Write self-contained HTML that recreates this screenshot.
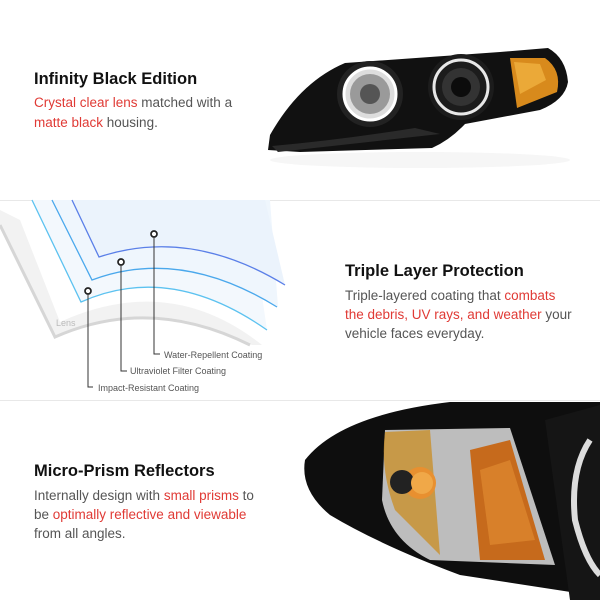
<!DOCTYPE html>
<html><head><meta charset="utf-8"><style>
body{margin:0;background:#fff;}
svg{display:block;font-family:"Liberation Sans",Arial,sans-serif;}
.h{font-size:16.5px;font-weight:bold;fill:#111;}
.b{font-size:13.5px;fill:#555;}
.r{fill:#e03a35;}
.s{font-size:9px;fill:#555;}
</style></head><body>
<svg width="600" height="600" viewBox="0 0 600 600">
<rect width="600" height="600" fill="#fff"/>
<line x1="0" y1="200.5" x2="600" y2="200.5" stroke="#e8e8e8"/>
<line x1="0" y1="400.5" x2="600" y2="400.5" stroke="#e8e8e8"/>

<text x="34" y="84" class="h">Infinity Black Edition</text>
<text x="34" y="107" class="b"><tspan class="r">Crystal clear lens</tspan> matched with a</text>
<text x="34" y="127" class="b"><tspan class="r">matte black</tspan> housing.</text>

<ellipse cx="420" cy="160" rx="150" ry="8" fill="#f6f6f6"/>
<path d="M268 150 L270 135 Q300 82 345 63 L500 52 L548 48 Q566 58 568 82 Q565 100 540 110 L465 124 Q450 140 432 148 L300 152 Z" fill="#111"/>
<path d="M272 146 Q340 140 415 128 L440 134 L278 152 Z" fill="#2a2a2a"/>
<path d="M510 58 L545 58 Q562 70 557 92 L517 108 Z" fill="#d88a1c"/>
<path d="M514 62 L540 64 L546 80 L520 94 Z" fill="#f0b040" opacity=".8"/>
<circle cx="370" cy="94" r="33" fill="#222"/>
<circle cx="370" cy="94" r="26" fill="#ddd" stroke="#fff" stroke-width="3"/>
<circle cx="370" cy="94" r="20" fill="#9a9a9a"/>
<circle cx="370" cy="94" r="10" fill="#555"/>
<circle cx="461" cy="87" r="33" fill="#1c1c1c"/>
<circle cx="461" cy="87" r="27" fill="none" stroke="#e8e8e8" stroke-width="3"/>
<circle cx="461" cy="87" r="19" fill="#333"/>
<circle cx="461" cy="87" r="10" fill="#0c0c0c"/>

<path d="M0 210 L0 225 L55 337 Q150 292 252 345 L262 345 Q170 272 60 322 L20 220 Z" fill="#f2f2f2"/>
<path d="M0 225 L55 337 Q150 295 250 345" fill="none" stroke="#d6d6d6" stroke-width="3"/>
<path d="M32 200 L80 302 Q170 262 267 330 L248 200 Z" fill="#f3f8fd"/>
<path d="M52 200 L92 280 Q180 247 278 307 L270 200 Z" fill="#eff6fd"/>
<path d="M72 200 L99 257 Q190 227 285 285 L265 200 Z" fill="#ebf3fc"/>
<path d="M32 200 L81 302 Q170 262 267 330" fill="none" stroke="#5cc2f0" stroke-width="1.3"/>
<path d="M52 200 L92 280 Q180 247 277 307" fill="none" stroke="#4aa8ec" stroke-width="1.3"/>
<path d="M72 200 L99 257 Q190 227 285 285" fill="none" stroke="#5a7fe8" stroke-width="1.3"/>
<text x="56" y="326" font-size="9" fill="#bbb">Lens</text>
<g fill="#fff" stroke="#222" stroke-width="1.7">
<circle cx="88" cy="291" r="3"/><circle cx="121" cy="262" r="3"/><circle cx="154" cy="234" r="3"/>
</g>
<g fill="none" stroke="#333" stroke-width="1">
<path d="M88 294 V387 H93"/><path d="M121 265 V371 H127"/><path d="M154 237 V354 H160"/>
</g>
<text x="98" y="391" class="s">Impact-Resistant Coating</text>
<text x="130" y="374" class="s">Ultraviolet Filter Coating</text>
<text x="164" y="358" class="s">Water-Repellent Coating</text>

<text x="345" y="276" class="h">Triple Layer Protection</text>
<text x="345" y="300" class="b">Triple-layered coating that <tspan class="r">combats</tspan></text>
<text x="345" y="319" class="b"><tspan class="r">the debris, UV rays, and weather</tspan> your</text>
<text x="345" y="338" class="b">vehicle faces everyday.</text>

<text x="34" y="476" class="h">Micro-Prism Reflectors</text>
<text x="34" y="500" class="b">Internally design with <tspan class="r">small prisms</tspan> to</text>
<text x="34" y="519" class="b">be <tspan class="r">optimally reflective and viewable</tspan></text>
<text x="34" y="538" class="b">from all angles.</text>

<path d="M600 402 L450 402 Q340 415 305 460 Q300 490 330 515 Q380 545 460 575 L590 595 L600 600 Z" fill="#0e0e0e"/>
<path d="M385 430 L510 428 L555 565 L430 560 Q390 540 382 500 Z" fill="#bdbdbd"/>
<path d="M385 432 Q380 470 395 510 L440 555 L430 430 Z" fill="#c9902a" opacity=".8"/>
<path d="M470 450 L510 440 L545 560 L480 560 Z" fill="#c66a1c"/>
<path d="M480 470 L510 460 L535 540 L490 545 Z" fill="#e08a30" opacity=".7"/>
<circle cx="420" cy="483" r="16" fill="#e89030"/>
<circle cx="402" cy="482" r="12" fill="#222"/>
<circle cx="422" cy="483" r="11" fill="#f0a848"/>
<path d="M545 420 L600 405 L600 600 L570 600 Z" fill="#151515"/>
<path d="M590 440 Q570 470 575 520 Q585 560 600 575" fill="none" stroke="#ddd" stroke-width="6"/>
</svg>
</body></html>
